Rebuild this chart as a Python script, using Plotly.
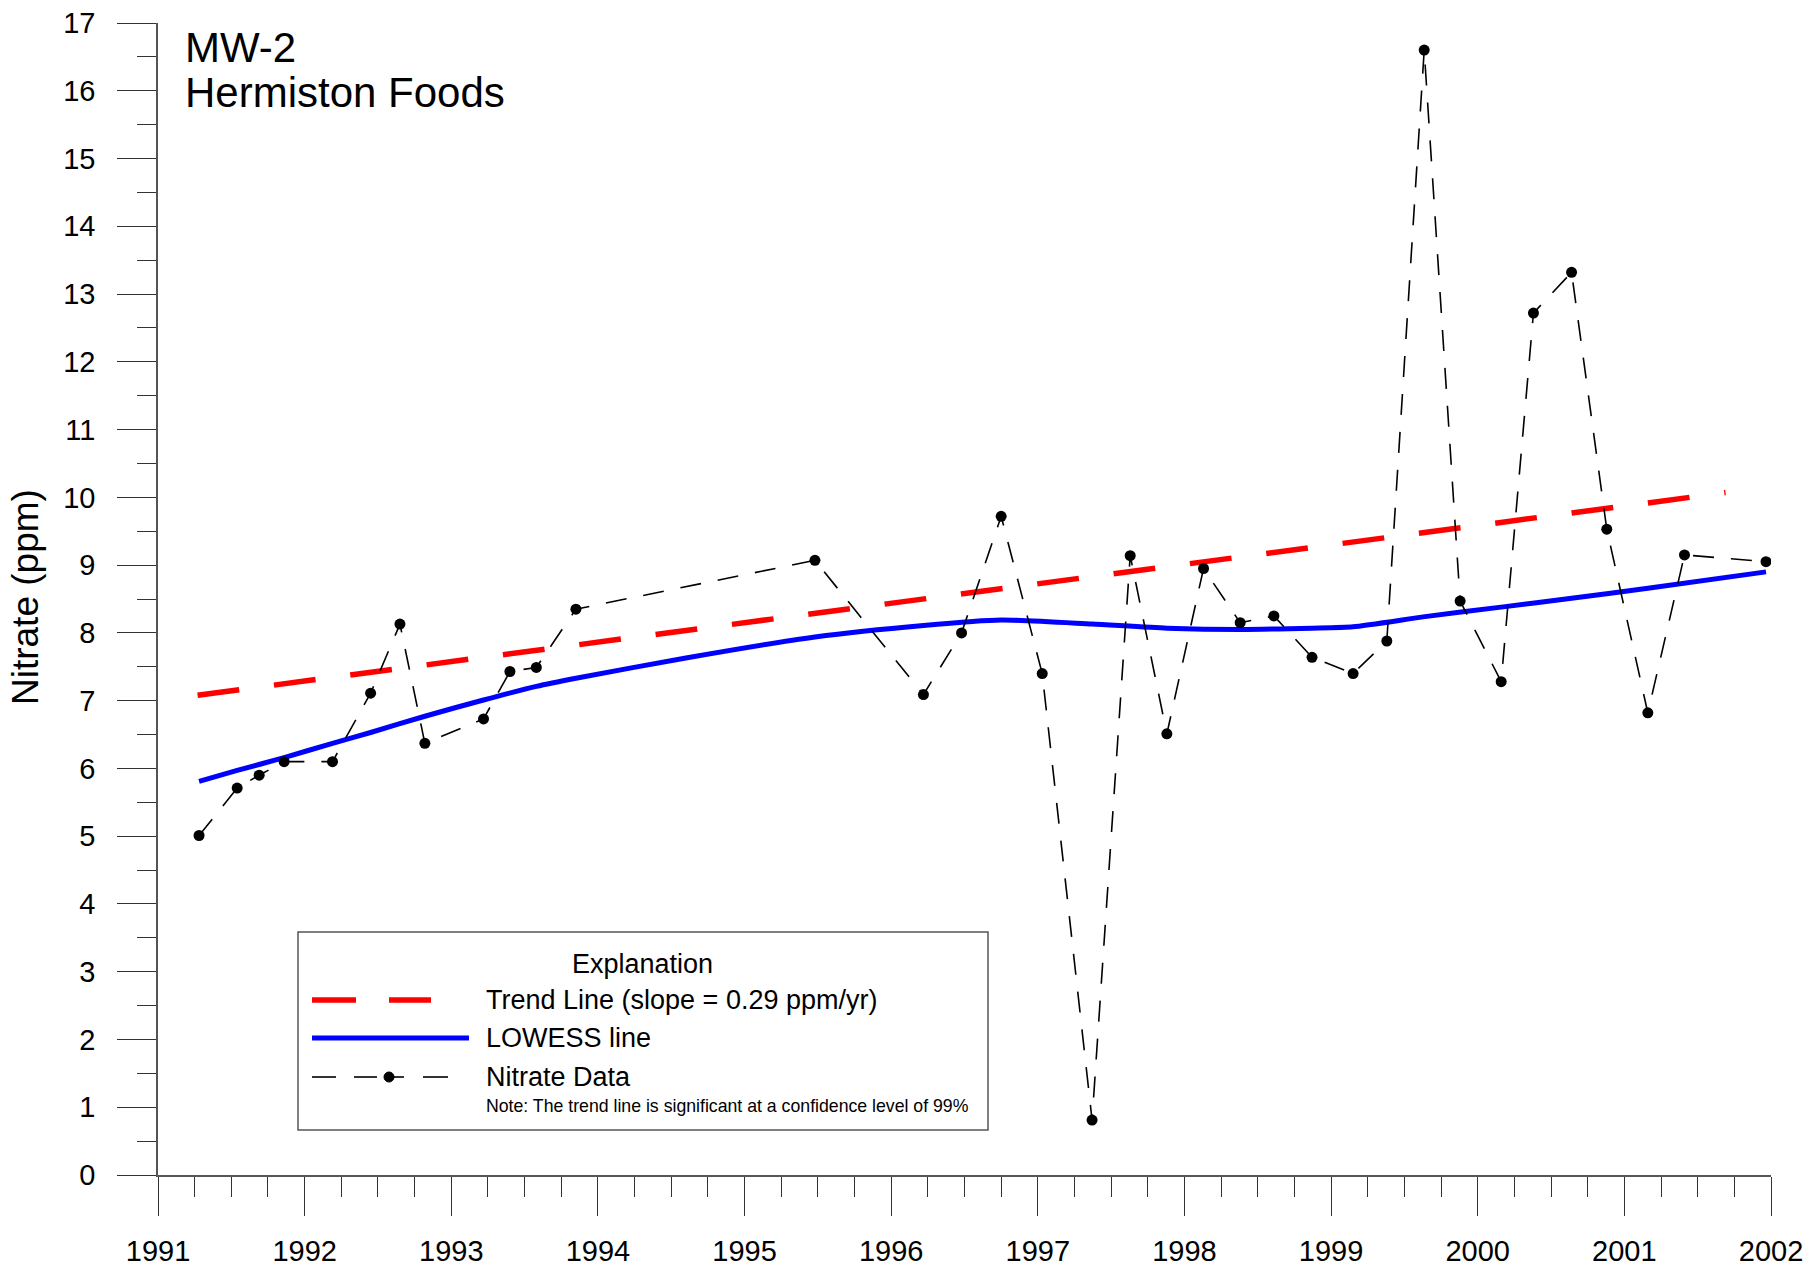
import plotly.graph_objects as go

# ---------------- data ----------------
sample_year = [1991.28, 1991.54, 1991.69, 1991.86, 1992.19, 1992.45, 1992.65, 1992.82,
               1993.22, 1993.40, 1993.58, 1993.85, 1995.48, 1996.22, 1996.48, 1996.75,
               1997.03, 1997.37, 1997.63, 1997.88, 1998.13, 1998.38, 1998.61, 1998.87,
               1999.15, 1999.38, 1999.635, 1999.88, 2000.16, 2000.38, 2000.64, 2000.88,
               2001.16, 2001.41, 2001.966]
nitrate_ppm = [5.01, 5.71, 5.90, 6.10, 6.10, 7.11, 8.13, 6.37,
               6.73, 7.43, 7.49, 8.35, 9.07, 7.09, 8.00, 9.72,
               7.40, 0.81, 9.14, 6.51, 8.95, 8.15, 8.25, 7.64,
               7.40, 7.88, 16.60, 8.47, 7.28, 12.72, 13.32, 9.53,
               6.82, 9.15, 9.05]

lowess_year = [1991.28, 1991.54, 1991.86, 1992.19, 1992.45, 1992.82, 1993.22, 1993.58,
               1993.85, 1994.6, 1995.48, 1996.22, 1996.75, 1997.37, 1997.88, 1998.38,
               1998.87, 1999.15, 1999.64, 2000.16, 2000.64, 2001.16, 2001.966]
lowess_ppm = [5.81, 5.97, 6.16, 6.37, 6.53, 6.77, 7.01, 7.21,
              7.33, 7.63, 7.94, 8.11, 8.19, 8.13, 8.07, 8.05,
              8.07, 8.09, 8.24, 8.38, 8.51, 8.66, 8.90]

trend_year = [1991.27, 2001.69]
trend_ppm = [7.08, 10.07]

x_tick_vals = list(range(1991, 2003))
x_tick_text = [str(v) for v in x_tick_vals]
y_tick_vals = list(range(0, 18))

title_lines = ["MW-2", "Hermiston Foods"]
legend_title = "Explanation"
legend_labels = ["Trend Line (slope = 0.29 ppm/yr)", "LOWESS line", "Nitrate Data"]
legend_note = "Note: The trend line is significant at a confidence level of 99%"

FONT = "Liberation Sans, Arial, sans-serif"

# ------------- layout geometry (pixels) -------------
W_FIG, H_FIG = 1813, 1268
L, R, T, B = 158, 1771, 23, 1175
PW, PH = R - L, B - T


def px(x):
    return (x - L) / PW


def py(y):
    return (B - y) / PH


fig = go.Figure()

fig.add_trace(go.Scatter(
    x=lowess_year, y=lowess_ppm, mode="lines",
    line=dict(color="#0000ff", width=5, shape="spline", smoothing=0.6),
    showlegend=False, hoverinfo="skip"))

fig.add_trace(go.Scatter(
    x=trend_year, y=trend_ppm, mode="lines",
    line=dict(color="#ff0000", width=5.5, dash="42px,35px"),
    showlegend=False, hoverinfo="skip"))

fig.add_trace(go.Scatter(
    x=sample_year, y=nitrate_ppm, mode="lines+markers",
    line=dict(color="black", width=1.6, dash="21px,17px"),
    marker=dict(color="black", size=11),
    showlegend=False))

shapes = []
annotations = []

# title
annotations.append(dict(text=title_lines[0], xref="paper", yref="paper",
                        x=px(183), y=py(47), xanchor="left", yanchor="middle",
                        showarrow=False, font=dict(family=FONT, size=42, color="black")))
annotations.append(dict(text=title_lines[1], xref="paper", yref="paper",
                        x=px(183), y=py(93), xanchor="left", yanchor="middle",
                        showarrow=False, font=dict(family=FONT, size=42, color="black")))

# y axis title
annotations.append(dict(text="Nitrate (ppm)", xref="paper", yref="paper",
                        x=px(25), y=py(597), xanchor="center", yanchor="middle",
                        textangle=-90, showarrow=False,
                        font=dict(family=FONT, size=37, color="black")))

# legend box
shapes.append(dict(type="rect", xref="paper", yref="paper",
                   x0=px(298), x1=px(988), y0=py(1130), y1=py(932),
                   line=dict(color="#555555", width=1.5), fillcolor="white", layer="above"))
annotations.append(dict(text=legend_title, xref="paper", yref="paper",
                        x=px(642), y=py(964), xanchor="center", yanchor="middle",
                        showarrow=False, font=dict(family=FONT, size=27, color="black")))
# red sample
for a, b in [(312, 356), (389, 431)]:
    shapes.append(dict(type="line", xref="paper", yref="paper",
                       x0=px(a), x1=px(b), y0=py(1000), y1=py(1000),
                       line=dict(color="#ff0000", width=5.5), layer="above"))
# blue sample
shapes.append(dict(type="line", xref="paper", yref="paper",
                   x0=px(312), x1=px(469), y0=py(1038), y1=py(1038),
                   line=dict(color="#0000ff", width=5), layer="above"))
# black sample
for a, b in [(312, 336), (354, 377), (389, 404), (423, 448)]:
    shapes.append(dict(type="line", xref="paper", yref="paper",
                       x0=px(a), x1=px(b), y0=py(1077), y1=py(1077),
                       line=dict(color="black", width=1.6), layer="above"))
shapes.append(dict(type="circle", xref="paper", yref="paper",
                   x0=px(384), x1=px(394), y0=py(1082), y1=py(1072),
                   line=dict(color="black", width=1), fillcolor="black", layer="above"))
for lbl, yy in zip(legend_labels, [1000, 1038, 1077]):
    annotations.append(dict(text=lbl, xref="paper", yref="paper",
                            x=px(484), y=py(yy), xanchor="left", yanchor="middle",
                            showarrow=False, font=dict(family=FONT, size=27, color="black")))
annotations.append(dict(text=legend_note, xref="paper", yref="paper",
                        x=px(484), y=py(1106), xanchor="left", yanchor="middle",
                        showarrow=False, font=dict(family=FONT, size=17.7, color="black")))

fig.update_layout(
    width=W_FIG, height=H_FIG,
    margin=dict(l=L, r=W_FIG - R, t=T, b=H_FIG - B, autoexpand=False),
    paper_bgcolor="white", plot_bgcolor="white",
    font=dict(family=FONT, size=29, color="black"),
    shapes=shapes, annotations=annotations,
    xaxis=dict(range=[1991, 2002], tickmode="array", tickvals=x_tick_vals, ticktext=x_tick_text,
               automargin=False,
               showgrid=False, zeroline=False, showline=True, linecolor="#555555", linewidth=1.5,
               ticks="outside", ticklen=39, tickwidth=1.2, tickcolor="#333333",
               tickfont=dict(family=FONT, size=29, color="black"), ticklabelstandoff=10,
               minor=dict(dtick=0.25, tick0=1991, ticks="outside", ticklen=20, tickwidth=1.2,
                          tickcolor="#333333", showgrid=False)),
    yaxis=dict(range=[0, 17], tickmode="array", tickvals=y_tick_vals,
               automargin=False,
               showgrid=False, zeroline=False, showline=True, linecolor="#555555", linewidth=1.5,
               ticks="outside", ticklen=39, tickwidth=1.2, tickcolor="#333333",
               tickfont=dict(family=FONT, size=29, color="black"), ticklabelstandoff=16,
               minor=dict(dtick=0.5, tick0=0, ticks="outside", ticklen=19, tickwidth=1.2,
                          tickcolor="#333333", showgrid=False)),
)

fig.write_html("out.html", config={"displayModeBar": False},
               post_script="document.body.style.margin='0';document.body.style.overflow='hidden';")
